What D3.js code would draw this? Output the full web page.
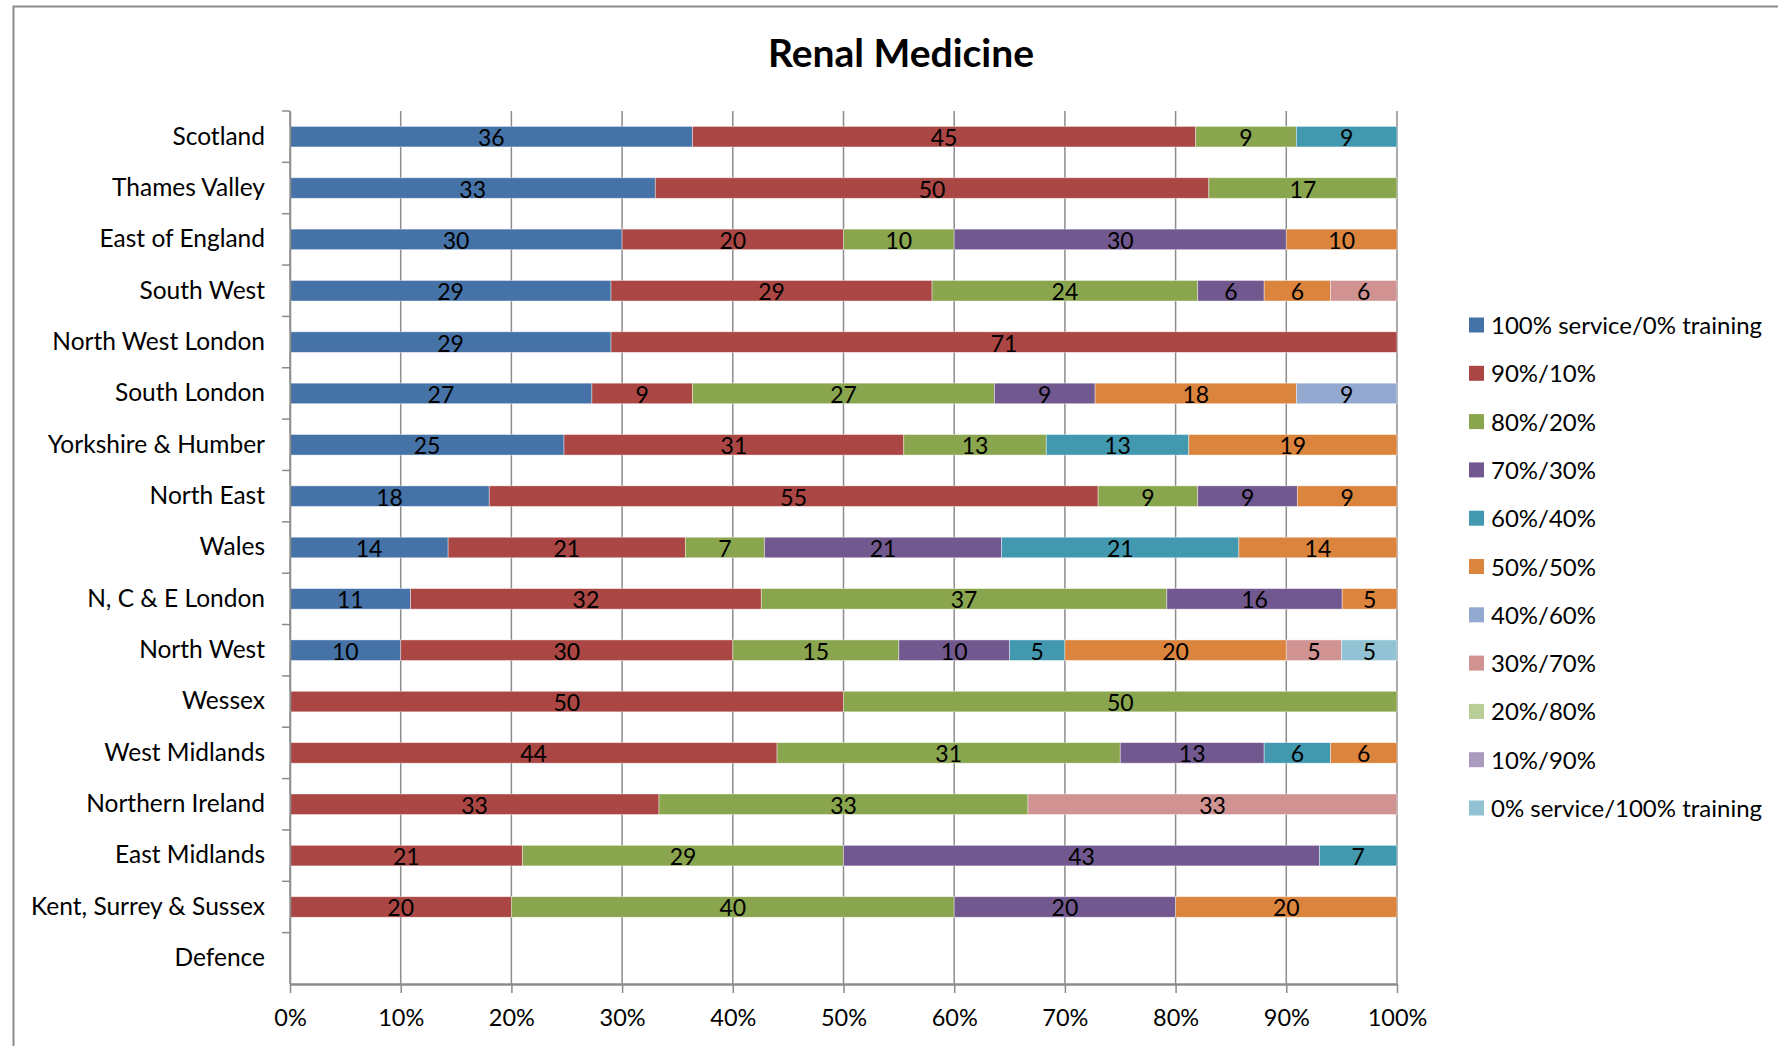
<!DOCTYPE html>
<html>
<head>
<meta charset="utf-8">
<script src="https://cdn.jsdelivr.net/npm/d3@7"></script>
<style>
  html, body { margin: 0; padding: 0; background: #fff; }
  svg { display: block; font-family: Lato, "Open Sans", sans-serif; }
</style>
</head>
<body>
<svg id="chart" width="1778" height="1046"></svg>
<script>
const title = "Renal Medicine";
const categories = ["Scotland","Thames Valley","East of England","South West","North West London","South London","Yorkshire & Humber","North East","Wales","N, C & E London","North West","Wessex","West Midlands","Northern Ireland","East Midlands","Kent, Surrey & Sussex","Defence"];
const seriesNames = ["100% service/0% training","90%/10%","80%/20%","70%/30%","60%/40%","50%/50%","40%/60%","30%/70%","20%/80%","10%/90%","0% service/100% training"];
const seriesColors = ["#4572A7","#AA4643","#89A54E","#71588F","#4198AF","#DB843D","#93A9CF","#D19392","#B9CD96","#A99BBD","#92C3D4"];
const s100_0 = [36,33,30,29,29,27,25,18,14,11,10,0,0,0,0,0,0];
const s90_10 = [45,50,20,29,71,9,31,55,21,32,30,50,44,33,21,20,0];
const s80_20 = [9,17,10,24,0,27,13,9,7,37,15,50,31,33,29,40,0];
const s70_30 = [0,0,30,6,0,9,0,9,21,16,10,0,13,0,43,20,0];
const s60_40 = [9,0,0,0,0,0,13,0,21,0,5,0,6,0,7,0,0];
const s50_50 = [0,0,10,6,0,18,19,9,14,5,20,0,6,0,0,20,0];
const s40_60 = [0,0,0,0,0,9,0,0,0,0,0,0,0,0,0,0,0];
const s30_70 = [0,0,0,6,0,0,0,0,0,0,5,0,0,33,0,0,0];
const s20_80 = [0,0,0,0,0,0,0,0,0,0,0,0,0,0,0,0,0];
const s10_90 = [0,0,0,0,0,0,0,0,0,0,0,0,0,0,0,0,0];
const s0_100 = [0,0,0,0,0,0,0,0,0,0,5,0,0,0,0,0,0];
const xTicks = [0,0.1,0.2,0.3,0.4,0.5,0.6,0.7,0.8,0.9,1];

const seriesValues = [s100_0,s90_10,s80_20,s70_30,s60_40,s50_50,s40_60,s30_70,s20_80,s10_90,s0_100];
const rows = categories.map((c, i) => {
  const r = { cat: c };
  seriesNames.forEach((s, k) => r[s] = seriesValues[k][i]);
  return r;
});

const svg = d3.select("#chart");
const margin = { left: 290, right: 1397, top: 111, bottom: 984 };

// outer frame
svg.append("path")
  .attr("d", "M13.5,1046 L13.5,6.5 L1778,6.5")
  .attr("fill", "none").attr("stroke", "#8c8c8c").attr("stroke-width", 2);

svg.append("text")
  .attr("x", 901).attr("y", 67)
  .attr("text-anchor", "middle")
  .attr("font-size", 39).attr("font-weight", "bold").attr("fill", "#000")
  .text(title);

const x = d3.scaleLinear().domain([0, 1]).range([margin.left, margin.right]);
const y = d3.scaleBand().domain(categories).range([margin.top, margin.bottom]).paddingInner(0.6).paddingOuter(0.3);
const yb = d3.scaleBand().domain(categories).range([margin.top, margin.bottom]);

// gridlines
svg.append("g").selectAll("line").data(xTicks).join("line")
  .attr("x1", d => x(d)).attr("x2", d => x(d))
  .attr("y1", margin.top).attr("y2", margin.bottom)
  .attr("stroke", "#8c8c8c").attr("stroke-width", 1.5);

const stack = d3.stack().keys(seriesNames).offset(d3.stackOffsetExpand);
const stacked = stack(rows);

const g = svg.append("g");
stacked.forEach((layer, k) => {
  g.append("g").attr("fill", seriesColors[k])
    .selectAll("rect").data(layer.filter(d => d[1] - d[0] > 0)).join("rect")
    .attr("x", d => x(d[0]))
    .attr("width", d => x(d[1]) - x(d[0]))
    .attr("y", d => y(d.data.cat))
    .attr("height", y.bandwidth())
    .attr("stroke", "rgba(255,255,255,0.5)").attr("stroke-width", 0.8);
});

const lg = svg.append("g");
stacked.forEach((layer, k) => {
  lg.append("g").selectAll("text").data(layer.filter(d => d[1] - d[0] > 0)).join("text")
    .attr("x", d => (x(d[0]) + x(d[1])) / 2)
    .attr("y", d => y(d.data.cat) + y.bandwidth() / 2 + 9.5)
    .attr("text-anchor", "middle")
    .attr("font-size", 23).attr("fill", "#000")
    .text(d => d.data[seriesNames[k]]);
});

// y axis
const yAxis = d3.axisLeft(yb).tickSize(0).tickPadding(25);
const yg = svg.append("g").attr("transform", `translate(${margin.left},0)`).call(yAxis);
yg.select(".domain").attr("stroke", "#8c8c8c").attr("stroke-width", 1.5);
yg.selectAll("text").attr("font-size", 24.5).attr("fill", "#000").attr("font-family", "Lato, sans-serif");
// category boundary ticks
svg.append("g").selectAll("line").data(categories).join("line")
  .attr("x1", margin.left - 8).attr("x2", margin.left)
  .attr("y1", d => yb(d)).attr("y2", d => yb(d))
  .attr("stroke", "#8c8c8c").attr("stroke-width", 1.5);

// x axis
const xAxis = d3.axisBottom(x).tickValues(xTicks).tickFormat(d3.format(".0%")).tickSize(9).tickSizeOuter(0).tickPadding(16);
const xg = svg.append("g").attr("transform", `translate(0,${margin.bottom})`).call(xAxis);
xg.select(".domain").attr("stroke", "#8c8c8c").attr("stroke-width", 2.5);
xg.selectAll(".tick line").attr("stroke", "#8c8c8c").attr("stroke-width", 1.5);
xg.selectAll("text").attr("font-size", 23.5).attr("fill", "#000").attr("font-family", "Lato, sans-serif");

// legend
const leg = svg.append("g").attr("transform", "translate(1469,325)");
const li = leg.selectAll("g").data(seriesNames).join("g")
  .attr("transform", (d, i) => `translate(0,${i * 48.3})`);
li.append("rect").attr("x", 0).attr("y", -7.5).attr("width", 15).attr("height", 15)
  .attr("fill", (d, i) => seriesColors[i]);
li.append("text").attr("x", 22).attr("y", 9)
  .attr("font-size", 24).attr("fill", "#000")
  .text(d => d);
</script>
</body>
</html>
